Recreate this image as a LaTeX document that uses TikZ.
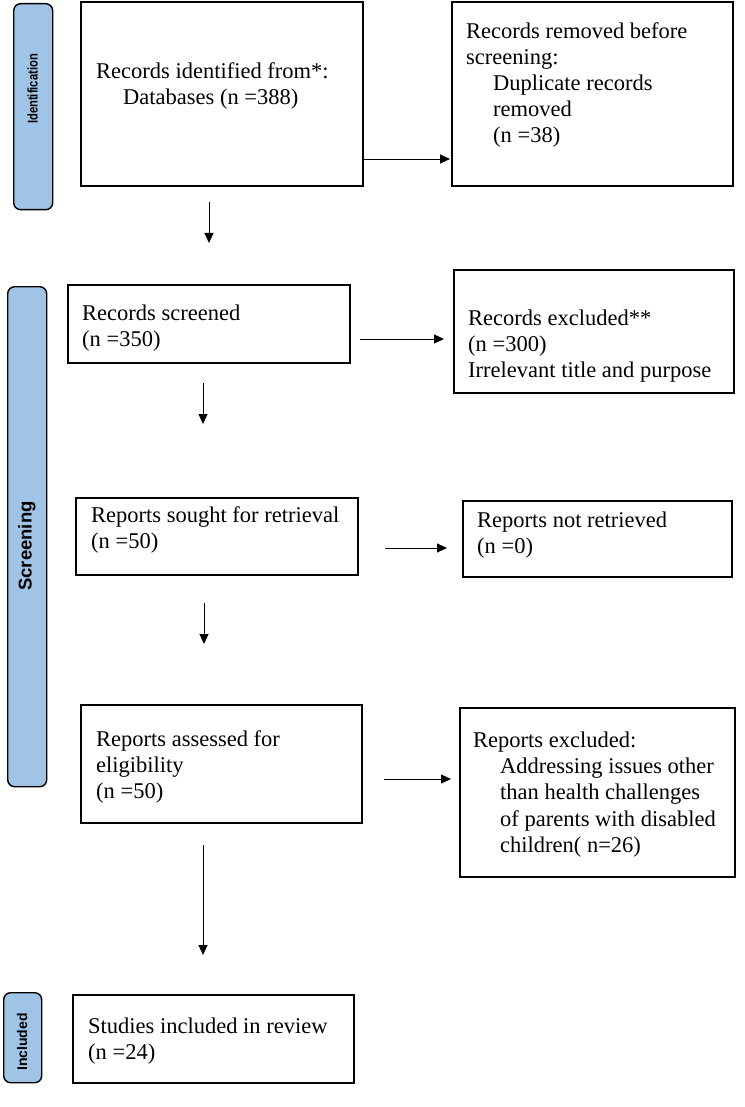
\documentclass[tikz,border=0pt]{standalone}
\usepackage{fontspec}
\setmainfont{Liberation Serif}
\newfontfamily\labelfont{Liberation Sans}
\usetikzlibrary{arrows.meta}
\definecolor{sidefill}{RGB}{160,196,230}
\begin{document}
\begin{tikzpicture}[x=1pt,y=-1pt,
 box/.style={draw=black, line width=1.8pt, inner sep=0pt, anchor=north west},
 txt/.style={anchor=base west, inner sep=0pt, font=\fontsize{22.5}{26}\selectfont},
 side/.style={draw=black, line width=1.4pt, fill=sidefill, rounded corners=7pt, anchor=north west, inner sep=0pt},
 sidetxt/.style={rotate=90, inner sep=0pt},
 arr/.style={-{Triangle[length=10pt,width=9pt]}, line width=0.9pt}
]
\useasboundingbox (0,0) rectangle (744,1107);

% side bars
\node[side, minimum width=39pt, minimum height=206pt] (s1) at (13,3) {};
\node[sidetxt, font=\labelfont\bfseries\fontsize{14}{16}\selectfont] (s1t) at (32.5,89) {\scalebox{0.8}[1]{Identification}};
\node[side, minimum width=39pt, minimum height=500pt] (s2) at (7,286) {};
\node[sidetxt, font=\labelfont\bfseries\fontsize{18.5}{21}\selectfont] (s2t) at (27,546) {Screening};
\node[side, minimum width=38pt, minimum height=90pt] (s3) at (3,992) {};
\node[sidetxt, font=\labelfont\bfseries\fontsize{14}{17}\selectfont] (s3t) at (22,1042) {Included};

% boxes
\node[box, minimum width=282pt, minimum height=184pt] (b1) at (80,1) {};
\node[txt] (b1a) at (96,79) {Records identified from*:};
\node[txt] (b1b) at (123,105) {Databases (n =388)};

\node[box, minimum width=281pt, minimum height=184pt] (b2) at (451,1) {};
\node[txt] (b2a) at (466,39) {Records removed before};
\node[txt] (b2b) at (466,65) {screening:};
\node[txt] (b2c) at (493,91) {Duplicate records};
\node[txt] (b2d) at (493,117) {removed};
\node[txt] (b2e) at (493,143) {(n =38)};

\node[box, minimum width=282pt, minimum height=78pt] (b3) at (67,284) {};
\node[txt] (b3a) at (82,320) {Records screened};
\node[txt] (b3b) at (82,346) {(n =350)};

\node[box, minimum width=280pt, minimum height=123pt] (b4) at (453,269) {};
\node[txt] (b4a) at (468,325) {Records excluded**};
\node[txt] (b4b) at (468,351) {(n =300)};
\node[txt] (b4c) at (468,377) {Irrelevant title and purpose};

\node[box, minimum width=282pt, minimum height=77pt] (b5) at (75,497) {};
\node[txt] (b5a) at (91,522) {Reports sought for retrieval};
\node[txt] (b5b) at (91,548) {(n =50)};

\node[box, minimum width=269pt, minimum height=76pt] (b6) at (462,500) {};
\node[txt] (b6a) at (477,527) {Reports not retrieved};
\node[txt] (b6b) at (477,553) {(n =0)};

\node[box, minimum width=281pt, minimum height=118pt] (b7) at (80,704) {};
\node[txt] (b7a) at (96,746) {Reports assessed for};
\node[txt] (b7b) at (96,772) {eligibility};
\node[txt] (b7c) at (96,798) {(n =50)};

\node[box, minimum width=275pt, minimum height=169pt] (b8) at (459,707) {};
\node[txt] (b8a) at (473,747) {Reports excluded:};
\node[txt] (b8b) at (500,773) {Addressing issues other};
\node[txt] (b8c) at (500,799) {than health challenges};
\node[txt] (b8d) at (500,826) {of parents with disabled};
\node[txt] (b8e) at (500,852) {children( n=26)};

\node[box, minimum width=281pt, minimum height=88pt] (b9) at (72,994) {};
\node[txt] (b9a) at (88,1033) {Studies included in review};
\node[txt] (b9b) at (88,1059) {(n =24)};

% arrow ends
\coordinate (h1s) at (363,159); \coordinate (h1e) at (450,159);
\coordinate (h2s) at (360,339); \coordinate (h2e) at (444,339);
\coordinate (h3s) at (385,548); \coordinate (h3e) at (447,548);
\coordinate (h4s) at (384,779); \coordinate (h4e) at (451,779);
\coordinate (v1s) at (209,202); \coordinate (v1e) at (209,243);
\coordinate (v2s) at (203,383); \coordinate (v2e) at (203,424);
\coordinate (v3s) at (204,603); \coordinate (v3e) at (204,644);
\coordinate (v4s) at (203,845); \coordinate (v4e) at (203,955);

\draw[arr] (h1s) -- (h1e);
\draw[arr] (h2s) -- (h2e);
\draw[arr] (h3s) -- (h3e);
\draw[arr] (h4s) -- (h4e);
\draw[arr] (v1s) -- (v1e);
\draw[arr] (v2s) -- (v2e);
\draw[arr] (v3s) -- (v3e);
\draw[arr] (v4s) -- (v4e);
\end{tikzpicture}
\end{document}
